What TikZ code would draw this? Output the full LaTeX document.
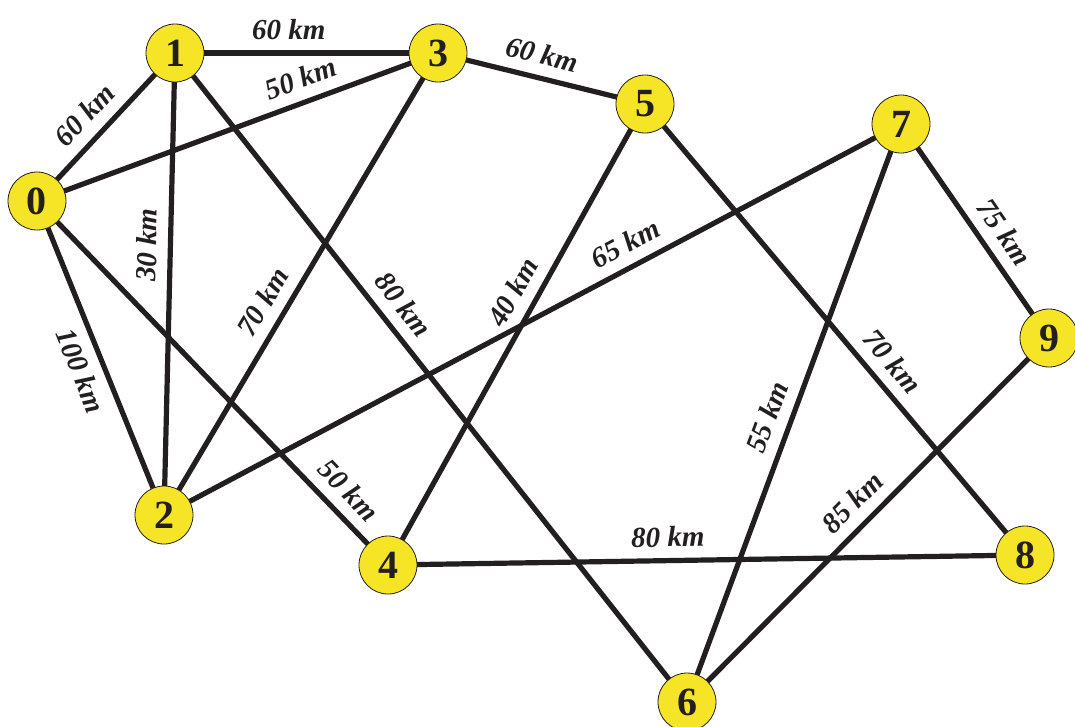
\documentclass[tikz,border=0pt]{standalone}
\usepackage{fontspec}
\setmainfont{Liberation Serif}
\usetikzlibrary{backgrounds}
\definecolor{nodeyellow}{HTML}{F6E526}
\definecolor{ink}{HTML}{231F20}
\begin{document}
\begin{tikzpicture}[x=1pt,y=-1pt,
  city/.style={circle, fill=nodeyellow, draw=ink, line width=0.8pt, minimum size=58pt, inner sep=0pt,
    font=\fontsize{40}{40}\selectfont\bfseries, text=ink},
  road/.style={line width=5.2pt, draw=ink},
  dist/.style={sloped, font=\fontsize{29}{29}\selectfont\bfseries\itshape, text=ink, inner sep=0pt}]
\useasboundingbox (0,0) rectangle (1075,726);
\node[city] (n0) at (37,201) {0};
\node[city] (n1) at (175,53) {1};
\node[city] (n2) at (164,515) {2};
\node[city] (n3) at (438,53) {3};
\node[city] (n4) at (388,565) {4};
\node[city] (n5) at (645,104) {5};
\node[city] (n6) at (687,702) {6};
\node[city] (n7) at (901,124) {7};
\node[city] (n8) at (1025,555) {8};
\node[city] (n9) at (1049,338) {9};
\begin{scope}[on background layer]
\draw[road] (n0.center) -- node[dist, pos=0.472, above=11pt] {60 km} (n1.center);
\draw[road] (n1.center) -- node[dist, pos=0.433, above=11pt] {60 km} (n3.center);
\draw[road] (n0.center) -- node[dist, pos=0.678, above=11pt] {50 km} (n3.center);
\draw[road] (n3.center) -- node[dist, pos=0.477, above=11pt] {60 km} (n5.center);
\draw[road] (n2.center) -- node[dist, pos=0.583, above=11pt] {30 km} (n1.center);
\draw[road] (n0.center) -- node[dist, pos=0.513, below=10pt] {100 km} (n2.center);
\draw[road] (n2.center) -- node[dist, pos=0.435, above=11pt] {70 km} (n3.center);
\draw[road] (n1.center) -- node[dist, pos=0.410, above=11pt] {80 km} (n6.center);
\draw[road] (n0.center) -- node[dist, pos=0.840, above=11pt] {50 km} (n4.center);
\draw[road] (n4.center) -- node[dist, pos=0.567, above=11pt] {40 km} (n5.center);
\draw[road] (n2.center) -- node[dist, pos=0.641, above=11pt] {65 km} (n7.center);
\draw[road] (n5.center) -- node[dist, pos=0.604, above=11pt] {70 km} (n8.center);
\draw[road] (n6.center) -- node[dist, pos=0.479, above=11pt] {55 km} (n7.center);
\draw[road] (n7.center) -- node[dist, pos=0.567, above=11pt] {75 km} (n9.center);
\draw[road] (n6.center) -- node[dist, pos=0.503, above=11pt] {85 km} (n9.center);
\draw[road] (n4.center) -- node[dist, pos=0.440, above=11pt] {80 km} (n8.center);
\end{scope}
\end{tikzpicture}
\end{document}
